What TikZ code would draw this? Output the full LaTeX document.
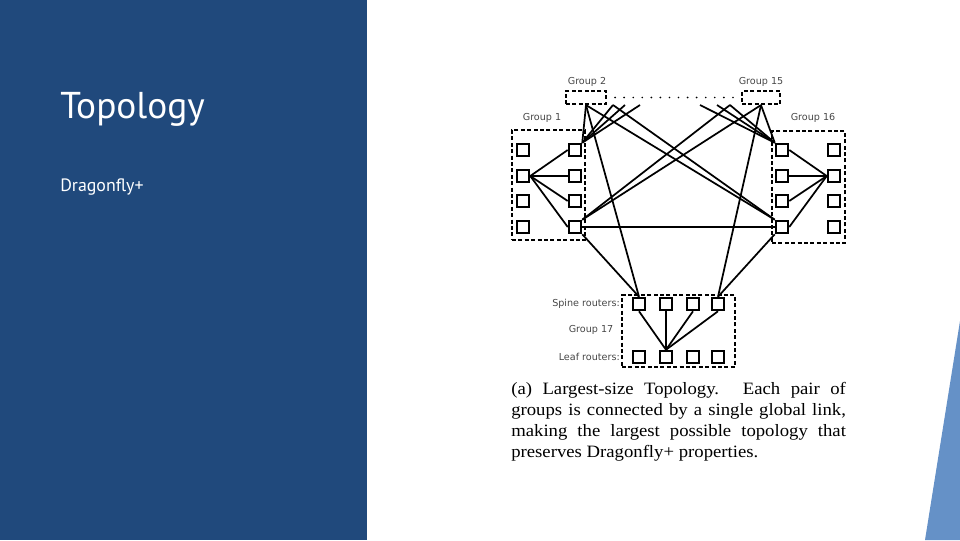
\documentclass[tikz,border=0pt]{standalone}
\usepackage{fontspec}
\setmainfont{Liberation Serif}
\newfontfamily\capfont[FakeStretch=1.08]{Liberation Serif}
\newfontfamily\titlefont{PT Sans}
\newfontfamily\labelfont{DejaVu Sans}
\usetikzlibrary{calc}
\definecolor{panelblue}{RGB}{32,73,124}
\definecolor{accentblue}{RGB}{101,145,199}
\definecolor{labelgray}{RGB}{70,70,70}
\begin{document}
\begin{tikzpicture}[x=0.75pt,y=-0.75pt,
  router/.style={draw,line width=1.5pt,minimum size=9.4pt,inner sep=0pt},
  groupbox/.style={draw,line width=1.6pt,dash pattern=on 3pt off 1.8pt,inner sep=0pt},
  link/.style={line width=1.3pt},
  lbl/.style={font=\labelfont\fontsize{7.2}{9}\selectfont,text=labelgray,inner sep=0pt},
  dotline/.style={line width=1.4pt,line cap=round,dash pattern=on 0pt off 6.8pt}]
\useasboundingbox (0,0) rectangle (960,540);
% background panels
\fill[panelblue] (0,0) rectangle (367,540);
\fill[accentblue] (960,321) -- (925,540) -- (960,540) -- cycle;
\node[anchor=base west,inner sep=0,text=white,font=\titlefont\fontsize{28}{31}\selectfont] (title) at (60,118) {Topology};
\node[anchor=base west,inner sep=0,text=white,font=\titlefont\fontsize{13.4}{16}\selectfont] (subtitle) at (60,191) {Dragonfly+};

% group boxes
\node[groupbox,minimum width=54.75pt,minimum height=82.5pt] (g1) at (548.5,185) {};
\node[groupbox,minimum width=54.75pt,minimum height=84pt] (g16) at (808.5,187) {};
\node[groupbox,minimum width=30pt,minimum height=9.75pt] (g2) at (586,97.5) {};
\node[groupbox,minimum width=28.5pt,minimum height=9.75pt] (g15) at (761,97.5) {};
\node[groupbox,minimum width=84.75pt,minimum height=54pt] (g17) at (678.5,331) {};
\coordinate (d1) at ($(g2.east)+(8,0)$);
\coordinate (d2) at ($(g15.west)+(-5,0)$);
\draw[dotline] (d1) -- (d2);

% labels
\node[lbl] (lg2) at (587,82) {Group 2};
\node[lbl] (lg15) at (761,82) {Group 15};
\node[lbl] (lg1) at (542,118) {Group 1};
\node[lbl] (lg16) at (813,118) {Group 16};
\node[lbl,anchor=east] (lsp) at (620,304) {Spine routers:};
\node[lbl] (lg17) at (591,330) {Group 17};
\node[lbl,anchor=east] (llf) at (620,357) {Leaf routers:};

% routers
\foreach \i/\y in {1/150,2/176,3/201,4/227}{
  \node[router] (a\i) at (523,\y) {};
  \node[router] (s\i) at (575,\y) {};
  \node[router] (t\i) at (782,\y) {};
  \node[router] (b\i) at (834,\y) {};
}
\foreach \i/\x in {1/639,2/666,3/693,4/718}{
  \node[router] (sp\i) at (\x,304) {};
  \node[router] (lf\i) at (\x,357) {};
}

% partial link ends on the dotted row
\coordinate (c1) at (613,105);
\coordinate (c2) at (625,105);
\coordinate (c3) at (640,105);
\coordinate (c4) at (700,105);
\coordinate (c5) at (717,105);
\coordinate (c6) at (730,105);

% intra-group links
\foreach \i in {1,2,3,4}{
  \draw[link] (a2.east) -- (s\i.west);
  \draw[link] (b2.west) -- (t\i.east);
  \draw[link] (sp\i.south) -- (lf2.north);
}

% global links
\draw[link] (g2.south) -- (s1.north east);
\draw[link] (g2.south) -- (t4.north west);
\draw[link] (g2.south) -- (sp1.north);
\draw[link] (c1) -- (s1.north east);
\draw[link] (c1) -- (t4.north west);
\draw[link] (c2) -- (s1.north east);
\draw[link] (c3) -- (s1.north east);
\draw[link] (g15.south) -- (t1.north west);
\draw[link] (g15.south) -- (s4.north east);
\draw[link] (g15.south) -- (sp4.north);
\draw[link] (c6) -- (t1.north west);
\draw[link] (c6) -- (s4.north east);
\draw[link] (c5) -- (t1.north west);
\draw[link] (c4) -- (t1.north west);
\draw[link] (s4.east) -- (t4.west);
\draw[link] (s4.south east) -- (sp1.north);
\draw[link] (t4.south west) -- (sp4.north);

% caption
\node[anchor=north west,inner sep=0,text width=251pt,align=justify,
  font=\capfont\fontsize{13}{15.75}\selectfont] (cap) at (511,382)
  {(a) Largest-size Topology. Each pair of\linebreak groups is connected by a single global link,\linebreak making the largest possible topology that\linebreak preserves Dragonfly+ properties.};
\end{tikzpicture}
\end{document}
